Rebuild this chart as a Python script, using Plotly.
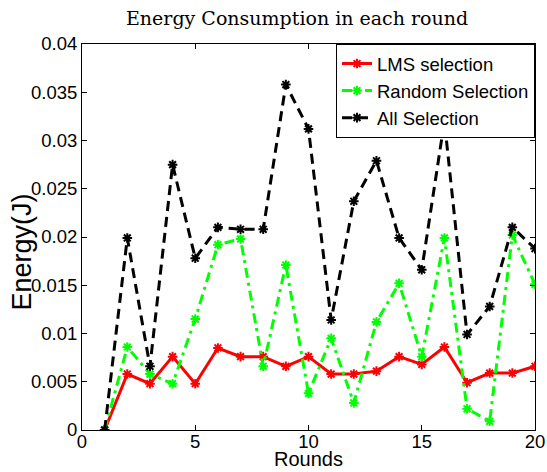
import plotly.graph_objects as go

rounds = list(range(1, 21))
lms = [0, 0.0058, 0.0048, 0.0076, 0.0048, 0.0085, 0.0076, 0.0076, 0.0066, 0.0076,
       0.0058, 0.0058, 0.0061, 0.0076, 0.0068, 0.0086, 0.0049, 0.0059, 0.0059, 0.0066]
random_sel = [0, 0.0086, 0.0058, 0.0048, 0.0115, 0.0192, 0.0198, 0.0066, 0.0171, 0.0038,
              0.0095, 0.0028, 0.0112, 0.0152, 0.0076, 0.0199, 0.0022, 0.0009, 0.0202, 0.0151]
all_sel = [0, 0.0199, 0.0066, 0.0275, 0.0178, 0.0210, 0.0208, 0.0208, 0.0358, 0.0312,
           0.0114, 0.0237, 0.0279, 0.0199, 0.0166, 0.0320, 0.0099, 0.0128, 0.0210, 0.0188]
x_ticks = [0, 5, 10, 15, 20]
y_ticks = [0, 0.005, 0.01, 0.015, 0.02, 0.025, 0.03, 0.035, 0.04]
y_tick_text = ["0", "0.005", "0.01", "0.015", "0.02", "0.025", "0.03", "0.035", "0.04"]

series = [
    ("LMS selection", lms, "#ff0000", "solid"),
    ("Random Selection", random_sel, "#00ff00", "10px,5px,3px,5px"),
    ("All Selection", all_sel, "#000000", "10px,6px"),
]

SANS = "Liberation Sans, Arial, sans-serif"

fig = go.Figure()
for name, vals, color, dash in series:
    fig.add_trace(go.Scatter(
        x=rounds, y=vals, name=name, mode="lines+markers",
        line=dict(color=color, width=3, dash=dash),
        marker=dict(symbol="asterisk-open", size=8, color=color,
                    line=dict(color=color, width=2)),
    ))

axis_common = dict(
    showline=True, linecolor="black", linewidth=1, mirror="ticks",
    ticks="inside", ticklen=5, tickcolor="black", showgrid=False, zeroline=False,
    automargin=False,
    tickfont=dict(family=SANS, size=18.5, color="black"),
)

fig.update_layout(
    width=547, height=472,
    margin=dict(l=82, r=12, t=44, b=42),
    paper_bgcolor="white", plot_bgcolor="white",
    showlegend=True,
    legend=dict(x=1, y=1, xanchor="right", yanchor="top",
                bordercolor="black", borderwidth=1, bgcolor="white",
                font=dict(family=SANS, size=18.5, color="black"),
                tracegroupgap=0, itemwidth=30),
    xaxis=dict(range=[0, 20], tickvals=x_ticks, ticklabelstandoff=-5, **axis_common),
    yaxis=dict(range=[0, 0.04], tickvals=y_ticks, ticktext=y_tick_text, **axis_common),
)
fig.add_annotation(text="Energy Consumption in each round", xref="paper", yref="paper",
                   x=0.474, y=1.0, yshift=26, yanchor="middle", showarrow=False,
                   font=dict(family="DejaVu Serif, serif", size=19, color="black"))
fig.add_annotation(text="Energy(J)", xref="paper", yref="paper", x=0, xshift=-60,
                   y=0.46, textangle=-90, showarrow=False, xanchor="center", yanchor="middle",
                   font=dict(family=SANS, size=27, color="black"))
fig.add_annotation(text="Rounds", xref="paper", yref="paper", x=0.5, y=0, yshift=-42,
                   showarrow=False, xanchor="center", yanchor="bottom",
                   font=dict(family=SANS, size=20, color="black"))

fig.write_html("out.html")
